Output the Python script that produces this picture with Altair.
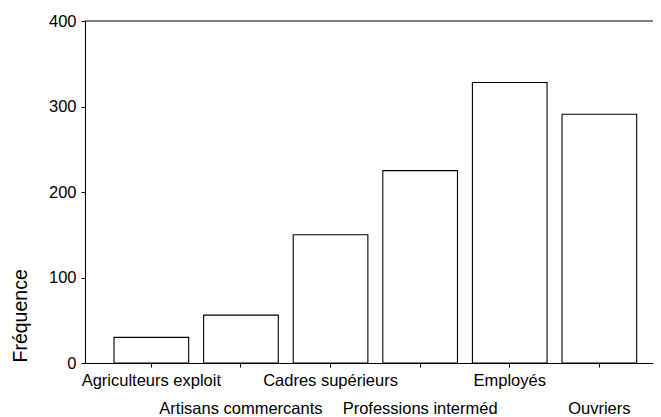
import altair as alt
import pandas as pd

categories = [
    "Agriculteurs exploit",
    "Artisans commercants",
    "Cadres supérieurs",
    "Professions interméd",
    "Employés",
    "Ouvriers",
]
frequencies = [30, 56, 150, 225, 328, 291]
y_ticks = [0, 100, 200, 300, 400]

FONT = "Liberation Sans"

df = pd.DataFrame({"cat": categories, "freq": frequencies})
top_df = pd.DataFrame({"v": [y_ticks[-1]]})

xscale = alt.Scale(domain=categories, paddingInner=0.1667, paddingOuter=0.253, align=0.64)
yscale = alt.Scale(domain=[y_ticks[0], y_ticks[-1]], nice=False, zero=True)

base = alt.Chart(df)

bars = base.mark_bar(fill="white", stroke="black", strokeWidth=1.1).encode(
    x=alt.X(
        "cat:N",
        scale=xscale,
        sort=categories,
        axis=alt.Axis(
            title=None,
            labels=False,
            domain=True,
            domainColor="black",
            domainWidth=1.1,
            ticks=True,
            tickColor="black",
            tickSize=4,
            tickWidth=1,
            bandPosition=0.5,
            grid=False,
        ),
    ),
    y=alt.Y(
        "freq:Q",
        scale=yscale,
        axis=alt.Axis(
            values=y_ticks,
            grid=False,
            domain=True,
            domainColor="black",
            domainWidth=1.1,
            tickColor="black",
            tickSize=4,
            tickWidth=1,
            labelFont=FONT,
            labelFontSize=16.5,
            labelColor="black",
            labelPadding=5,
            labelFlush=False,
            labelOverlap=False,
            title="Fréquence",
            titleFont=FONT,
            titleFontSize=19.5,
            titleFontWeight="normal",
            titleColor="black",
            titleAngle=270,
            titleAlign="left",
            titleBaseline="alphabetic",
            titleX=-58.3,
            titleY=341,
        ),
    ),
)

top_rule = alt.Chart(top_df).mark_rule(color="black", strokeWidth=1.1).encode(
    y=alt.Y("v:Q", scale=yscale)
)

labels = base.transform_window(idx="row_number()").transform_calculate(
    row="(datum.idx - 1) % 2"
)

row1 = labels.transform_filter("datum.row == 0").mark_text(
    font=FONT, fontSize=16.5, baseline="alphabetic", align="center", color="black"
).encode(
    x=alt.X("cat:N", scale=xscale, sort=categories),
    y=alt.value(364.5),
    text="cat:N",
)

row2 = labels.transform_filter("datum.row == 1").mark_text(
    font=FONT, fontSize=16.5, baseline="alphabetic", align="center", color="black"
).encode(
    x=alt.X("cat:N", scale=xscale, sort=categories),
    y=alt.value(393),
    text="cat:N",
)

chart = (
    alt.layer(bars, top_rule, row1, row2)
    .properties(
        width=568,
        height=342,
        autosize=alt.AutoSizeParams(type="none"),
        padding={"left": 77, "top": 13, "right": 0, "bottom": 54},
        background="white",
    )
    .configure_view(stroke=None)
)

chart.save("out.html", embed_options={"renderer": "svg", "actions": False})
